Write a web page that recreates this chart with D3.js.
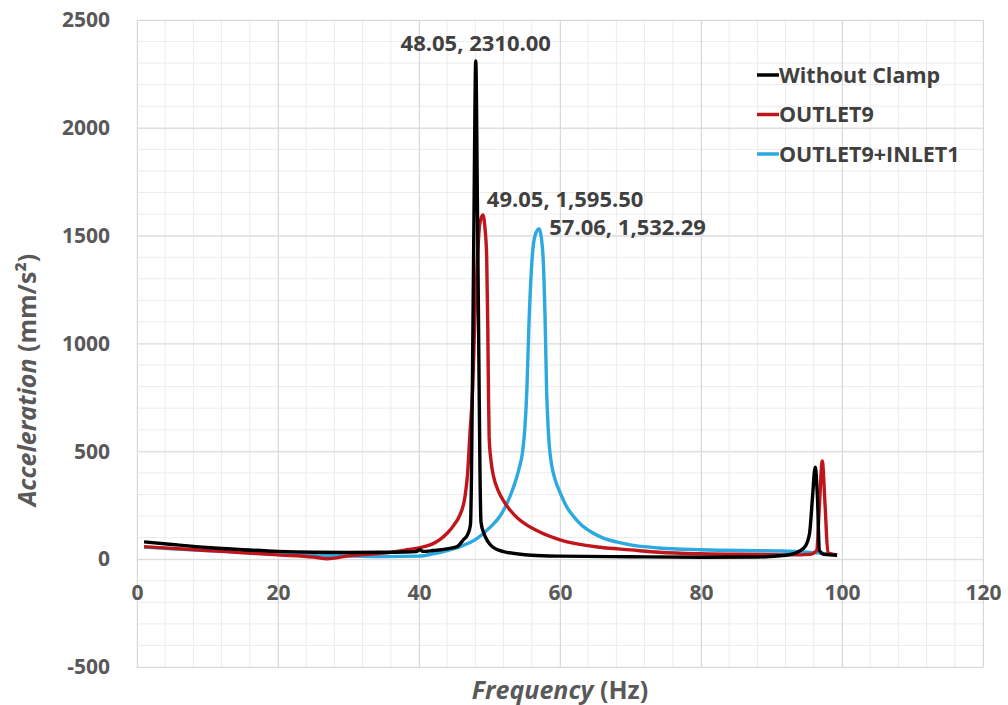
<!DOCTYPE html>
<html>
<head>
<meta charset="utf-8">
<script src="https://cdn.jsdelivr.net/npm/d3@7"></script>
<style>
  html, body { margin: 0; padding: 0; background: #fff; }
  svg text { font-family: "Open Sans", "Liberation Sans", sans-serif; }
</style>
</head>
<body>
<svg id="chart" width="1008" height="705"></svg>
<script>
// ---------- data ----------
const xTicks = [0, 20, 40, 60, 80, 100, 120];
const yTicks = [-500, 0, 500, 1000, 1500, 2000, 2500];
const seriesNames = ["Without Clamp", "OUTLET9", "OUTLET9+INLET1"];
const seriesColors = ["#000000", "#C0161B", "#2BA9E0"];

const freqWithout = [1, 5, 10, 15, 20, 25, 30, 35, 38, 39.6, 40.1, 40.6, 42, 44, 45.4, 46.3, 46.9, 47.3, 47.45, 47.6, 47.8, 48.05, 48.3, 48.5, 48.65, 48.8, 49.2, 49.8, 50.5, 52, 56, 60, 70, 80, 88, 92, 94, 94.8, 95.4, 95.8, 96.2, 96.5, 96.8, 97.5, 99.3];
const accWithout  = [80, 68, 54, 44, 36, 32, 31, 32, 33, 35, 44, 36, 40, 48, 58, 90, 115, 160, 400, 900, 1600, 2310, 1600, 900, 400, 170, 120, 80, 55, 35, 18, 14, 11, 9, 10, 18, 38, 60, 120, 280, 427, 300, 40, 22, 18];

const freqOutlet = [1, 5, 10, 15, 20, 25, 27, 30, 35, 38, 40, 41, 42, 43, 44, 45, 45.8, 46.5, 46.9, 47.2, 47.6, 47.9, 48.3, 48.6, 49.05, 49.4, 49.6, 49.75, 49.85, 49.95, 50.2, 50.6, 51.2, 52, 52.5, 54, 55, 57.2, 60, 65.7, 70, 74, 80, 88, 94, 95.5, 96.4, 96.8, 97.2, 97.6, 98, 99.3];
const accOutlet  = [58, 50, 40, 30, 20, 10, 2, 15, 28, 42, 52, 60, 72, 92, 120, 160, 205, 285, 400, 567, 784, 1094, 1401, 1550, 1595.5, 1520, 1401, 1094, 784, 567, 460, 380, 320, 270, 245, 190, 165, 125, 90, 55, 43, 32, 25, 22, 20, 22, 40, 250, 455, 250, 30, 20];

const freqInlet = [1, 5, 10, 15, 20, 25, 30, 35, 40, 42, 44, 46, 48.2, 50, 51.5, 52.5, 53.4, 54.2, 54.7, 55.0, 55.3, 55.6, 56.06, 56.5, 57.06, 57.35, 57.6, 57.9, 58.1, 58.3, 58.5, 58.8, 59.3, 60, 61, 62, 63, 64.5, 66, 68, 70, 74, 80, 86, 91, 94, 97, 99.3];
const accInlet  = [56, 48, 40, 33, 26, 20, 15, 12, 14, 25, 40, 60, 95, 145, 200, 260, 334, 420, 500, 600, 784, 1094, 1401, 1505, 1532.29, 1490, 1401, 1094, 784, 620, 520, 440, 370, 310, 240, 195, 160, 125, 100, 80, 66, 52, 44, 40, 38, 35, 28, 20];

const peakLabels = ["48.05, 2310.00", "49.05, 1,595.50", "57.06, 1,532.29"];
const peakX = [48.05, 49.05, 57.06];
const peakY = [2310.00, 1595.50, 1532.29];

// ---------- chart ----------
const svg = d3.select("#chart");
const x = d3.scaleLinear().domain([0, 120]).range([137, 983]);
const y = d3.scaleLinear().domain([-500, 2500]).range([667, 20]);
const fmt = d => String(d);

// minor grid
const gMinor = svg.append("g");
gMinor.selectAll("line.vx").data(d3.range(0, 121, 4)).join("line")
  .attr("x1", d => x(d)).attr("x2", d => x(d)).attr("y1", y(2500)).attr("y2", y(-500))
  .attr("stroke", "#ececec").attr("stroke-width", 1);
gMinor.selectAll("line.hy").data(d3.range(-500, 2501, 100)).join("line")
  .attr("y1", d => y(d)).attr("y2", d => y(d)).attr("x1", x(0)).attr("x2", x(120))
  .attr("stroke", "#ececec").attr("stroke-width", 1);

// major grid via axes
const gx = svg.append("g").attr("transform", `translate(0,${y(-500)})`)
  .call(d3.axisBottom(x).tickValues(xTicks).tickSize(-(y(-500) - y(2500))).tickFormat(""));
gx.select(".domain").remove();
gx.selectAll("line").attr("stroke", "#d9d9d9");
const gy = svg.append("g").attr("transform", `translate(${x(0)},0)`)
  .call(d3.axisLeft(y).tickValues(yTicks).tickSize(-(x(120) - x(0))).tickFormat(""));
gy.select(".domain").remove();
gy.selectAll("line").attr("stroke", "#d9d9d9");

// tick labels
const gxl = svg.append("g").attr("transform", `translate(0,${y(0)})`)
  .call(d3.axisBottom(x).tickValues(xTicks).tickSize(0).tickPadding(26).tickFormat(fmt));
gxl.select(".domain").remove();
gxl.selectAll("text").attr("font-size", 21).attr("font-weight", 700).attr("fill", "#595959")
  .style("font-family", '"Open Sans", sans-serif');
const gyl = svg.append("g").attr("transform", `translate(${x(0)},0)`)
  .call(d3.axisLeft(y).tickValues(yTicks).tickSize(0).tickPadding(27).tickFormat(fmt));
gyl.select(".domain").remove();
gyl.selectAll("text").attr("font-size", 21).attr("font-weight", 700).attr("fill", "#595959")
  .style("font-family", '"Open Sans", sans-serif');

// lines
const line = d3.line().x(d => x(d[0])).y(d => y(d[1])).curve(d3.curveMonotoneX);
const seriesData = [
  d3.zip(freqWithout, accWithout),
  d3.zip(freqOutlet, accOutlet),
  d3.zip(freqInlet, accInlet)
];
const drawOrder = [2, 1, 0];
drawOrder.forEach(i => {
  svg.append("path").datum(seriesData[i]).attr("d", line)
    .attr("fill", "none").attr("stroke", seriesColors[i]).attr("stroke-width", 3.4)
    .attr("stroke-linejoin", "round");
});

// peak labels
const labelAnchor = ["middle", "start", "start"];
const labelDx = [0, 4, 10];
const labelDy = [-10, -8, 6];
peakLabels.forEach((t, i) => {
  svg.append("text").attr("x", x(peakX[i]) + labelDx[i]).attr("y", y(peakY[i]) + labelDy[i])
    .attr("text-anchor", labelAnchor[i]).attr("font-size", 22).attr("font-weight", 700)
    .attr("fill", "#404040").text(t);
});

// legend
const legend = svg.append("g").attr("transform", "translate(757,75)");
seriesNames.forEach((n, i) => {
  const g = legend.append("g").attr("transform", `translate(0,${i * 39.5})`);
  g.append("line").attr("x1", 0).attr("x2", 22).attr("y1", 0).attr("y2", 0)
    .attr("stroke", seriesColors[i]).attr("stroke-width", 3.5);
  g.append("text").attr("x", 22).attr("y", 7.5).attr("font-size", 21.5).attr("font-weight", 700)
    .attr("fill", "#404040").text(n);
});

// axis titles
const xt = svg.append("text").attr("x", 560).attr("y", 699).attr("text-anchor", "middle")
  .attr("font-size", 25).attr("font-weight", 700).attr("fill", "#595959");
xt.append("tspan").attr("font-style", "italic").text("Frequency");
xt.append("tspan").text(" (Hz)");

const yt = svg.append("text").attr("transform", "translate(36,380) rotate(-90)")
  .attr("text-anchor", "middle").attr("font-size", 25).attr("font-weight", 700).attr("fill", "#595959");
yt.append("tspan").attr("font-style", "italic").text("Acceleration");
yt.append("tspan").text(" (mm/s²)");
</script>
</body>
</html>
